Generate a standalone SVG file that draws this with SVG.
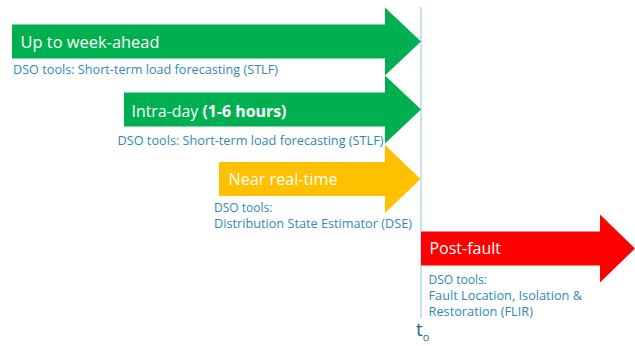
<svg xmlns="http://www.w3.org/2000/svg" width="635" height="346" viewBox="0 0 635 346">
  <style>
    .title { font-family: "Open Sans", "Liberation Sans", sans-serif; font-size: 16.8px; fill: #ffffff; }
    .tool { font-family: "Open Sans", "Liberation Sans", sans-serif; font-size: 12.7px; fill: #2f8ab3; }
    .tool.stack { font-size: 12px; }
    .green { fill: #00b050; }
    .amber { fill: #ffc000; }
    .red { fill: #ff0000; }
  </style>
  <rect width="635" height="346" fill="#ffffff"/>

  <!-- time reference line t0 -->
  <g id="timeline">
    <line x1="421" y1="7" x2="421" y2="318" stroke="#a8cfe0" stroke-width="1.2"/>
    <text x="416" y="336" font-family="Open Sans, Liberation Sans, sans-serif" font-size="19" fill="#1f6d8c">t<tspan font-size="11" dy="5">o</tspan></text>
  </g>

  <g id="week-ahead">
    <polygon class="green" points="12,24.5 385,24.5 385,7.5 421,41.5 385,75.5 385,58.5 12,58.5"/>
    <text class="title" x="20.5" y="47.5" textLength="139" lengthAdjust="spacingAndGlyphs">Up to week-ahead</text>
    <text class="tool" x="13" y="74" textLength="265" lengthAdjust="spacingAndGlyphs">DSO tools: Short-term load forecasting (STLF)</text>
  </g>

  <g id="intra-day">
    <polygon class="green" points="124,92.5 385,92.5 385,75.5 421,109.5 385,143.5 385,126.5 124,126.5"/>
    <text class="title" x="131.5" y="116.5" textLength="155" lengthAdjust="spacingAndGlyphs">Intra-day <tspan font-weight="700">(1-6 hours)</tspan></text>
    <text class="tool" x="117.5" y="145" textLength="266" lengthAdjust="spacingAndGlyphs">DSO tools: Short-term load forecasting (STLF)</text>
  </g>

  <g id="near-real-time">
    <polygon class="amber" points="219,162 385,162 385,145 420.5,179 385,213 385,196 219,196"/>
    <text class="title" x="228.5" y="185" textLength="109" lengthAdjust="spacingAndGlyphs">Near real-time</text>
    <text class="tool stack" x="214" y="211.5" textLength="58.5" lengthAdjust="spacingAndGlyphs">DSO tools:</text>
    <text class="tool stack" x="214" y="227.5" textLength="198" lengthAdjust="spacingAndGlyphs">Distribution State Estimator (DSE)</text>
  </g>

  <g id="post-fault">
    <polygon class="red" points="421,231.5 600,231.5 600,214.5 635,248.5 600,282.5 600,265.5 421,265.5"/>
    <text class="title" x="429.5" y="254" textLength="71.5" lengthAdjust="spacingAndGlyphs">Post-fault</text>
    <text class="tool stack" x="428.5" y="283.5" textLength="58.5" lengthAdjust="spacingAndGlyphs">DSO tools:</text>
    <text class="tool stack" x="428.5" y="299.5" textLength="153.5" lengthAdjust="spacingAndGlyphs">Fault Location, Isolation &amp;</text>
    <text class="tool stack" x="428.5" y="315.5" textLength="104.5" lengthAdjust="spacingAndGlyphs">Restoration (FLIR)</text>
  </g>
</svg>
